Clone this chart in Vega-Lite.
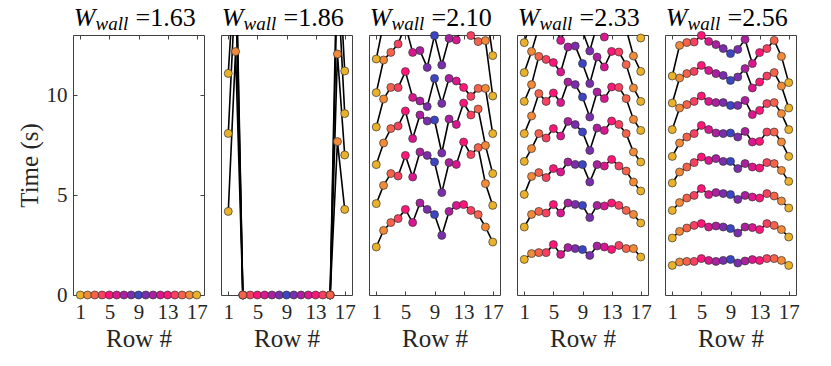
{
"$schema":"https://vega.github.io/schema/vega-lite/v6.json",
"background":"white",
"padding":{"left":16,"top":4,"right":5,"bottom":5},
"bounds":"flush",
"spacing":17,
"config":{
 "font":"'Liberation Serif', 'DejaVu Serif', serif",
 "view":{"stroke":"#404040","strokeWidth":1},
 "axis":{"grid":false,"domain":false,"ticks":true,"tickColor":"#404040","tickSize":-4,"tickWidth":1,"labelFont":"'Liberation Serif', 'DejaVu Serif', serif","labelFontSize":21,"labelColor":"#262626","labelPadding":10,"titleFont":"'Liberation Serif', 'DejaVu Serif', serif","titleFontSize":25,"titleFontWeight":"normal","titleColor":"#262626"},
 "text":{"font":"'Liberation Serif', 'DejaVu Serif', serif","color":"#000000"}
},
"hconcat":[
{"width":131,"height":260,
 "data":{"values":[
 {"row":1,"t":0,"k":1},{"row":2,"t":0,"k":1},{"row":3,"t":0,"k":1},{"row":4,"t":0,"k":1},{"row":5,"t":0,"k":1},{"row":6,"t":0,"k":1},{"row":7,"t":0,"k":1},{"row":8,"t":0,"k":1},{"row":9,"t":0,"k":1},{"row":10,"t":0,"k":1},{"row":11,"t":0,"k":1},{"row":12,"t":0,"k":1},{"row":13,"t":0,"k":1},{"row":14,"t":0,"k":1},{"row":15,"t":0,"k":1},{"row":16,"t":0,"k":1},{"row":17,"t":0,"k":1}
 ]},
 "resolve":{"axis":{"x":"independent","y":"independent"}},
 "layer":[
  {"mark":{"type":"line","color":"#000000","strokeWidth":1.6,"clip":true},
   "encoding":{"x":{"field":"row","type":"quantitative","scale":{"domain":[0,18],"nice":false},"axis":{"orient":"bottom","values":[1,5,9,13,17],"title":"Row #"}},
    "y":{"field":"t","type":"quantitative","scale":{"domain":[0,13],"nice":false},"axis":{"orient":"left","values":[0,5,10],"title":"Time (s)"}},
    "detail":{"field":"k","type":"nominal"},"order":{"field":"row","type":"quantitative"}}},
  {"transform":[{"filter":"datum.t <= 13.1"}],
   "mark":{"type":"circle","size":64,"opacity":1,"stroke":"#333333","strokeWidth":0.7},
   "encoding":{"x":{"field":"row","type":"quantitative","axis":{"orient":"top","values":[1,5,9,13,17],"labels":false,"title":null}},
    "y":{"field":"t","type":"quantitative","axis":{"orient":"right","values":[0,5,10],"labels":false,"title":null}},
    "color":{"field":"row","type":"ordinal","scale":{"domain":[1,2,3,4,5,6,7,8,9,10,11,12,13,14,15,16,17],"range":["#E9B22A","#F28A38","#F6624A","#FA4060","#FF1678","#D9178E","#AA209E","#7A2EAE","#3D45C2","#7A2EAE","#AA209E","#D9178E","#FF1678","#FA4060","#F6624A","#F28A38","#E9B22A"]},"legend":null}}},
  {"data":{"values":[{"s":"W"}]},"mark":{"type":"text","fontStyle":"italic","fontSize":26,"align":"right","baseline":"alphabetic","dx":-43,"dy":-9},
   "encoding":{"x":{"datum":9,"type":"quantitative","axis":null},"y":{"datum":13,"type":"quantitative","axis":null},"text":{"field":"s"}}},
  {"data":{"values":[{"s":"wall"}]},"mark":{"type":"text","fontStyle":"italic","fontSize":19,"align":"left","baseline":"alphabetic","dx":-43,"dy":-5},
   "encoding":{"x":{"datum":9,"type":"quantitative","axis":null},"y":{"datum":13,"type":"quantitative","axis":null},"text":{"field":"s"}}},
  {"data":{"values":[{"s":"=1.63"}]},"mark":{"type":"text","fontSize":26,"align":"left","baseline":"alphabetic","dx":-3,"dy":-9},
   "encoding":{"x":{"datum":9,"type":"quantitative","axis":null},"y":{"datum":13,"type":"quantitative","axis":null},"text":{"field":"s"}}}
 ]},
{"width":131,"height":260,
 "data":{"values":[
 {"row":1,"t":4.18,"k":1},{"row":2,"t":12.17,"k":1},{"row":3,"t":0,"k":1},{"row":4,"t":0,"k":1},{"row":5,"t":0,"k":1},{"row":6,"t":0,"k":1},{"row":7,"t":0,"k":1},{"row":8,"t":0,"k":1},{"row":9,"t":0,"k":1},{"row":10,"t":0,"k":1},{"row":11,"t":0,"k":1},{"row":12,"t":0,"k":1},{"row":13,"t":0,"k":1},{"row":14,"t":0,"k":1},{"row":15,"t":0,"k":1},{"row":16,"t":7.67,"k":1},{"row":17,"t":4.28,"k":1},
 {"row":1,"t":8.08,"k":2},{"row":2,"t":15.5,"k":2},{"row":3,"t":0,"k":2},{"row":15,"t":0,"k":2},{"row":16,"t":12.05,"k":2},{"row":17,"t":7.0,"k":2},
 {"row":1,"t":11.08,"k":3},{"row":2,"t":17,"k":3},{"row":3,"t":0,"k":3},{"row":15,"t":0,"k":3},{"row":16,"t":16,"k":3},{"row":17,"t":9.07,"k":3},
 {"row":1,"t":14.5,"k":4},{"row":2,"t":18,"k":4},{"row":3,"t":0,"k":4},{"row":15,"t":0,"k":4},{"row":16,"t":18,"k":4},{"row":17,"t":11.2,"k":4}
 ]},
 "resolve":{"axis":{"x":"independent","y":"independent"}},
 "layer":[
  {"mark":{"type":"line","color":"#000000","strokeWidth":1.6,"clip":true},
   "encoding":{"x":{"field":"row","type":"quantitative","scale":{"domain":[0,18],"nice":false},"axis":{"orient":"bottom","values":[1,5,9,13,17],"title":"Row #"}},
    "y":{"field":"t","type":"quantitative","scale":{"domain":[0,13],"nice":false},"axis":null},
    "detail":{"field":"k","type":"nominal"},"order":{"field":"row","type":"quantitative"}}},
  {"transform":[{"filter":"datum.t <= 13.1"}],
   "mark":{"type":"circle","size":64,"opacity":1,"stroke":"#333333","strokeWidth":0.7},
   "encoding":{"x":{"field":"row","type":"quantitative","axis":{"orient":"top","values":[1,5,9,13,17],"labels":false,"title":null}},
    "y":{"field":"t","type":"quantitative","axis":null},
    "color":{"field":"row","type":"ordinal","scale":{"domain":[1,2,3,4,5,6,7,8,9,10,11,12,13,14,15,16,17],"range":["#E9B22A","#F28A38","#F6624A","#FA4060","#FF1678","#D9178E","#AA209E","#7A2EAE","#3D45C2","#7A2EAE","#AA209E","#D9178E","#FF1678","#FA4060","#F6624A","#F28A38","#E9B22A"]},"legend":null}}},
  {"data":{"values":[{"s":"W"}]},"mark":{"type":"text","fontStyle":"italic","fontSize":26,"align":"right","baseline":"alphabetic","dx":-43,"dy":-9},
   "encoding":{"x":{"datum":9,"type":"quantitative","axis":null},"y":{"datum":13,"type":"quantitative","axis":null},"text":{"field":"s"}}},
  {"data":{"values":[{"s":"wall"}]},"mark":{"type":"text","fontStyle":"italic","fontSize":19,"align":"left","baseline":"alphabetic","dx":-43,"dy":-5},
   "encoding":{"x":{"datum":9,"type":"quantitative","axis":null},"y":{"datum":13,"type":"quantitative","axis":null},"text":{"field":"s"}}},
  {"data":{"values":[{"s":"=1.86"}]},"mark":{"type":"text","fontSize":26,"align":"left","baseline":"alphabetic","dx":-3,"dy":-9},
   "encoding":{"x":{"datum":9,"type":"quantitative","axis":null},"y":{"datum":13,"type":"quantitative","axis":null},"text":{"field":"s"}}}
 ]},
{"width":131,"height":260,
 "data":{"values":[
 {"row":1,"t":2.4,"k":1},{"row":2,"t":3.23,"k":1},{"row":3,"t":3.62,"k":1},{"row":4,"t":3.82,"k":1},{"row":5,"t":4.28,"k":1},{"row":6,"t":3.62,"k":1},{"row":7,"t":4.6,"k":1},{"row":8,"t":4.28,"k":1},{"row":9,"t":4.02,"k":1},{"row":10,"t":2.98,"k":1},{"row":11,"t":4.18,"k":1},{"row":12,"t":4.48,"k":1},{"row":13,"t":4.52,"k":1},{"row":14,"t":4.23,"k":1},{"row":15,"t":4.02,"k":1},{"row":16,"t":3.4,"k":1},{"row":17,"t":2.65,"k":1},
 {"row":1,"t":4.57,"k":2},{"row":2,"t":5.48,"k":2},{"row":3,"t":6.07,"k":2},{"row":4,"t":5.95,"k":2},{"row":5,"t":6.98,"k":2},{"row":6,"t":5.9,"k":2},{"row":7,"t":7.15,"k":2},{"row":8,"t":6.98,"k":2},{"row":9,"t":6.65,"k":2},{"row":10,"t":5.12,"k":2},{"row":11,"t":6.62,"k":2},{"row":12,"t":6.53,"k":2},{"row":13,"t":7.65,"k":2},{"row":14,"t":7.02,"k":2},{"row":15,"t":7.37,"k":2},{"row":16,"t":5.57,"k":2},{"row":17,"t":4.48,"k":2},
 {"row":1,"t":6.52,"k":3},{"row":2,"t":7.6,"k":3},{"row":3,"t":8.32,"k":3},{"row":4,"t":8.45,"k":3},{"row":5,"t":9.2,"k":3},{"row":6,"t":7.82,"k":3},{"row":7,"t":9.0,"k":3},{"row":8,"t":8.7,"k":3},{"row":9,"t":8.75,"k":3},{"row":10,"t":7.1,"k":3},{"row":11,"t":8.8,"k":3},{"row":12,"t":8.53,"k":3},{"row":13,"t":9.6,"k":3},{"row":14,"t":9.0,"k":3},{"row":15,"t":9.3,"k":3},{"row":16,"t":7.48,"k":3},{"row":17,"t":6.07,"k":3},
 {"row":1,"t":8.4,"k":4},{"row":2,"t":9.8,"k":4},{"row":3,"t":10.38,"k":4},{"row":4,"t":10.37,"k":4},{"row":5,"t":11.17,"k":4},{"row":6,"t":9.88,"k":4},{"row":7,"t":9.7,"k":4},{"row":8,"t":9.42,"k":4},{"row":9,"t":10.83,"k":4},{"row":10,"t":9.58,"k":4},{"row":11,"t":10.83,"k":4},{"row":12,"t":10.7,"k":4},{"row":13,"t":10.38,"k":4},{"row":14,"t":9.93,"k":4},{"row":15,"t":10.33,"k":4},{"row":16,"t":10.33,"k":4},{"row":17,"t":8.07,"k":4},
 {"row":1,"t":10.12,"k":5},{"row":2,"t":11.75,"k":5},{"row":3,"t":12.13,"k":5},{"row":4,"t":12.55,"k":5},{"row":5,"t":13.5,"k":5},{"row":6,"t":12.13,"k":5},{"row":7,"t":12.22,"k":5},{"row":8,"t":11.38,"k":5},{"row":9,"t":12.97,"k":5},{"row":10,"t":11.5,"k":5},{"row":11,"t":12.83,"k":5},{"row":12,"t":12.75,"k":5},{"row":13,"t":13.5,"k":5},{"row":14,"t":12.97,"k":5},{"row":15,"t":12.67,"k":5},{"row":16,"t":12.72,"k":5},{"row":17,"t":9.95,"k":5},
 {"row":1,"t":11.8,"k":6},{"row":2,"t":13.6,"k":6},{"row":3,"t":14,"k":6},{"row":9,"t":15,"k":6},{"row":15,"t":14.5,"k":6},{"row":16,"t":14.5,"k":6},{"row":17,"t":11.97,"k":6}
 ]},
 "resolve":{"axis":{"x":"independent","y":"independent"}},
 "layer":[
  {"mark":{"type":"line","color":"#000000","strokeWidth":1.6,"clip":true},
   "encoding":{"x":{"field":"row","type":"quantitative","scale":{"domain":[0,18],"nice":false},"axis":{"orient":"bottom","values":[1,5,9,13,17],"title":"Row #"}},
    "y":{"field":"t","type":"quantitative","scale":{"domain":[0,13],"nice":false},"axis":null},
    "detail":{"field":"k","type":"nominal"},"order":{"field":"row","type":"quantitative"}}},
  {"transform":[{"filter":"datum.t <= 13.1"}],
   "mark":{"type":"circle","size":64,"opacity":1,"stroke":"#333333","strokeWidth":0.7},
   "encoding":{"x":{"field":"row","type":"quantitative","axis":{"orient":"top","values":[1,5,9,13,17],"labels":false,"title":null}},
    "y":{"field":"t","type":"quantitative","axis":null},
    "color":{"field":"row","type":"ordinal","scale":{"domain":[1,2,3,4,5,6,7,8,9,10,11,12,13,14,15,16,17],"range":["#E9B22A","#F28A38","#F6624A","#FA4060","#FF1678","#D9178E","#AA209E","#7A2EAE","#3D45C2","#7A2EAE","#AA209E","#D9178E","#FF1678","#FA4060","#F6624A","#F28A38","#E9B22A"]},"legend":null}}},
  {"data":{"values":[{"s":"W"}]},"mark":{"type":"text","fontStyle":"italic","fontSize":26,"align":"right","baseline":"alphabetic","dx":-43,"dy":-9},
   "encoding":{"x":{"datum":9,"type":"quantitative","axis":null},"y":{"datum":13,"type":"quantitative","axis":null},"text":{"field":"s"}}},
  {"data":{"values":[{"s":"wall"}]},"mark":{"type":"text","fontStyle":"italic","fontSize":19,"align":"left","baseline":"alphabetic","dx":-43,"dy":-5},
   "encoding":{"x":{"datum":9,"type":"quantitative","axis":null},"y":{"datum":13,"type":"quantitative","axis":null},"text":{"field":"s"}}},
  {"data":{"values":[{"s":"=2.10"}]},"mark":{"type":"text","fontSize":26,"align":"left","baseline":"alphabetic","dx":-3,"dy":-9},
   "encoding":{"x":{"datum":9,"type":"quantitative","axis":null},"y":{"datum":13,"type":"quantitative","axis":null},"text":{"field":"s"}}}
 ]},
{"width":131,"height":260,
 "data":{"values":[
 {"row":1,"t":1.78,"k":1},{"row":2,"t":2.07,"k":1},{"row":3,"t":2.12,"k":1},{"row":4,"t":2.12,"k":1},{"row":5,"t":2.52,"k":1},{"row":6,"t":2.03,"k":1},{"row":7,"t":2.37,"k":1},{"row":8,"t":2.32,"k":1},{"row":9,"t":2.27,"k":1},{"row":10,"t":1.98,"k":1},{"row":11,"t":2.45,"k":1},{"row":12,"t":2.4,"k":1},{"row":13,"t":2.28,"k":1},{"row":14,"t":2.48,"k":1},{"row":15,"t":2.32,"k":1},{"row":16,"t":2.32,"k":1},{"row":17,"t":1.9,"k":1},
 {"row":1,"t":3.4,"k":2},{"row":2,"t":4.03,"k":2},{"row":3,"t":4.18,"k":2},{"row":4,"t":4.1,"k":2},{"row":5,"t":4.52,"k":2},{"row":6,"t":4.1,"k":2},{"row":7,"t":4.6,"k":2},{"row":8,"t":4.53,"k":2},{"row":9,"t":4.48,"k":2},{"row":10,"t":3.87,"k":2},{"row":11,"t":4.48,"k":2},{"row":12,"t":4.45,"k":2},{"row":13,"t":4.6,"k":2},{"row":14,"t":4.48,"k":2},{"row":15,"t":4.23,"k":2},{"row":16,"t":4.03,"k":2},{"row":17,"t":3.6,"k":2},
 {"row":1,"t":5.03,"k":3},{"row":2,"t":5.93,"k":3},{"row":3,"t":6.12,"k":3},{"row":4,"t":5.87,"k":3},{"row":5,"t":6.32,"k":3},{"row":6,"t":6.15,"k":3},{"row":7,"t":6.65,"k":3},{"row":8,"t":6.53,"k":3},{"row":9,"t":6.52,"k":3},{"row":10,"t":5.65,"k":3},{"row":11,"t":6.52,"k":3},{"row":12,"t":6.45,"k":3},{"row":13,"t":6.78,"k":3},{"row":14,"t":6.45,"k":3},{"row":15,"t":6.2,"k":3},{"row":16,"t":5.65,"k":3},{"row":17,"t":5.2,"k":3},
 {"row":1,"t":6.68,"k":4},{"row":2,"t":7.32,"k":4},{"row":3,"t":8.07,"k":4},{"row":4,"t":7.85,"k":4},{"row":5,"t":8.32,"k":4},{"row":6,"t":7.95,"k":4},{"row":7,"t":8.68,"k":4},{"row":8,"t":8.52,"k":4},{"row":9,"t":8.15,"k":4},{"row":10,"t":7.23,"k":4},{"row":11,"t":8.35,"k":4},{"row":12,"t":8.23,"k":4},{"row":13,"t":8.7,"k":4},{"row":14,"t":8.53,"k":4},{"row":15,"t":8.07,"k":4},{"row":16,"t":7.15,"k":4},{"row":17,"t":6.65,"k":4},
 {"row":1,"t":8.07,"k":5},{"row":2,"t":8.95,"k":5},{"row":3,"t":10.07,"k":5},{"row":4,"t":9.68,"k":5},{"row":5,"t":10.1,"k":5},{"row":6,"t":9.62,"k":5},{"row":7,"t":10.65,"k":5},{"row":8,"t":10.52,"k":5},{"row":9,"t":9.9,"k":5},{"row":10,"t":8.9,"k":5},{"row":11,"t":10.15,"k":5},{"row":12,"t":9.82,"k":5},{"row":13,"t":10.4,"k":5},{"row":14,"t":10.38,"k":5},{"row":15,"t":9.82,"k":5},{"row":16,"t":8.78,"k":5},{"row":17,"t":8.23,"k":5},
 {"row":1,"t":9.68,"k":6},{"row":2,"t":10.52,"k":6},{"row":3,"t":11.93,"k":6},{"row":4,"t":11.78,"k":6},{"row":5,"t":11.62,"k":6},{"row":6,"t":11.15,"k":6},{"row":7,"t":12.4,"k":6},{"row":8,"t":12.45,"k":6},{"row":9,"t":11.57,"k":6},{"row":10,"t":10.57,"k":6},{"row":11,"t":11.9,"k":6},{"row":12,"t":11.4,"k":6},{"row":13,"t":12.18,"k":6},{"row":14,"t":12.15,"k":6},{"row":15,"t":11.52,"k":6},{"row":16,"t":10.35,"k":6},{"row":17,"t":9.68,"k":6},
 {"row":1,"t":11.12,"k":7},{"row":2,"t":12.18,"k":7},{"row":3,"t":13.4,"k":7},{"row":5,"t":13.6,"k":7},{"row":6,"t":12.73,"k":7},{"row":7,"t":13.6,"k":7},{"row":9,"t":13.2,"k":7},{"row":10,"t":12.2,"k":7},{"row":11,"t":13.5,"k":7},{"row":12,"t":12.9,"k":7},{"row":13,"t":13.6,"k":7},{"row":15,"t":13.3,"k":7},{"row":16,"t":11.95,"k":7},{"row":17,"t":11.18,"k":7},
 {"row":1,"t":12.62,"k":8},{"row":2,"t":13.8,"k":8},{"row":16,"t":13.5,"k":8},{"row":17,"t":12.85,"k":8}
 ]},
 "resolve":{"axis":{"x":"independent","y":"independent"}},
 "layer":[
  {"mark":{"type":"line","color":"#000000","strokeWidth":1.6,"clip":true},
   "encoding":{"x":{"field":"row","type":"quantitative","scale":{"domain":[0,18],"nice":false},"axis":{"orient":"bottom","values":[1,5,9,13,17],"title":"Row #"}},
    "y":{"field":"t","type":"quantitative","scale":{"domain":[0,13],"nice":false},"axis":null},
    "detail":{"field":"k","type":"nominal"},"order":{"field":"row","type":"quantitative"}}},
  {"transform":[{"filter":"datum.t <= 13.1"}],
   "mark":{"type":"circle","size":64,"opacity":1,"stroke":"#333333","strokeWidth":0.7},
   "encoding":{"x":{"field":"row","type":"quantitative","axis":{"orient":"top","values":[1,5,9,13,17],"labels":false,"title":null}},
    "y":{"field":"t","type":"quantitative","axis":null},
    "color":{"field":"row","type":"ordinal","scale":{"domain":[1,2,3,4,5,6,7,8,9,10,11,12,13,14,15,16,17],"range":["#E9B22A","#F28A38","#F6624A","#FA4060","#FF1678","#D9178E","#AA209E","#7A2EAE","#3D45C2","#7A2EAE","#AA209E","#D9178E","#FF1678","#FA4060","#F6624A","#F28A38","#E9B22A"]},"legend":null}}},
  {"data":{"values":[{"s":"W"}]},"mark":{"type":"text","fontStyle":"italic","fontSize":26,"align":"right","baseline":"alphabetic","dx":-43,"dy":-9},
   "encoding":{"x":{"datum":9,"type":"quantitative","axis":null},"y":{"datum":13,"type":"quantitative","axis":null},"text":{"field":"s"}}},
  {"data":{"values":[{"s":"wall"}]},"mark":{"type":"text","fontStyle":"italic","fontSize":19,"align":"left","baseline":"alphabetic","dx":-43,"dy":-5},
   "encoding":{"x":{"datum":9,"type":"quantitative","axis":null},"y":{"datum":13,"type":"quantitative","axis":null},"text":{"field":"s"}}},
  {"data":{"values":[{"s":"=2.33"}]},"mark":{"type":"text","fontSize":26,"align":"left","baseline":"alphabetic","dx":-3,"dy":-9},
   "encoding":{"x":{"datum":9,"type":"quantitative","axis":null},"y":{"datum":13,"type":"quantitative","axis":null},"text":{"field":"s"}}}
 ]},
{"width":131,"height":260,
 "data":{"values":[
 {"row":1,"t":1.48,"k":1},{"row":2,"t":1.65,"k":1},{"row":3,"t":1.68,"k":1},{"row":4,"t":1.68,"k":1},{"row":5,"t":1.82,"k":1},{"row":6,"t":1.73,"k":1},{"row":7,"t":1.68,"k":1},{"row":8,"t":1.73,"k":1},{"row":9,"t":1.78,"k":1},{"row":10,"t":1.6,"k":1},{"row":11,"t":1.7,"k":1},{"row":12,"t":1.77,"k":1},{"row":13,"t":1.73,"k":1},{"row":14,"t":1.82,"k":1},{"row":15,"t":1.82,"k":1},{"row":16,"t":1.73,"k":1},{"row":17,"t":1.48,"k":1},
 {"row":1,"t":2.85,"k":2},{"row":2,"t":3.18,"k":2},{"row":3,"t":3.35,"k":2},{"row":4,"t":3.48,"k":2},{"row":5,"t":3.57,"k":2},{"row":6,"t":3.4,"k":2},{"row":7,"t":3.45,"k":2},{"row":8,"t":3.4,"k":2},{"row":9,"t":3.32,"k":2},{"row":10,"t":3.1,"k":2},{"row":11,"t":3.4,"k":2},{"row":12,"t":3.37,"k":2},{"row":13,"t":3.27,"k":2},{"row":14,"t":3.57,"k":2},{"row":15,"t":3.48,"k":2},{"row":16,"t":3.27,"k":2},{"row":17,"t":2.9,"k":2},
 {"row":1,"t":4.23,"k":3},{"row":2,"t":4.62,"k":3},{"row":3,"t":4.85,"k":3},{"row":4,"t":4.98,"k":3},{"row":5,"t":5.32,"k":3},{"row":6,"t":5.02,"k":3},{"row":7,"t":5.12,"k":3},{"row":8,"t":5.07,"k":3},{"row":9,"t":5.02,"k":3},{"row":10,"t":4.78,"k":3},{"row":11,"t":4.98,"k":3},{"row":12,"t":4.9,"k":3},{"row":13,"t":4.85,"k":3},{"row":14,"t":5.07,"k":3},{"row":15,"t":4.95,"k":3},{"row":16,"t":4.7,"k":3},{"row":17,"t":4.35,"k":3},
 {"row":1,"t":5.6,"k":4},{"row":2,"t":6.15,"k":4},{"row":3,"t":6.4,"k":4},{"row":4,"t":6.62,"k":4},{"row":5,"t":6.9,"k":4},{"row":6,"t":6.73,"k":4},{"row":7,"t":6.82,"k":4},{"row":8,"t":6.68,"k":4},{"row":9,"t":6.68,"k":4},{"row":10,"t":6.32,"k":4},{"row":11,"t":6.57,"k":4},{"row":12,"t":6.4,"k":4},{"row":13,"t":6.35,"k":4},{"row":14,"t":6.62,"k":4},{"row":15,"t":6.57,"k":4},{"row":16,"t":6.23,"k":4},{"row":17,"t":5.68,"k":4},
 {"row":1,"t":6.93,"k":5},{"row":2,"t":7.6,"k":5},{"row":3,"t":7.9,"k":5},{"row":4,"t":8.07,"k":5},{"row":5,"t":8.48,"k":5},{"row":6,"t":8.27,"k":5},{"row":7,"t":8.1,"k":5},{"row":8,"t":8.07,"k":5},{"row":9,"t":8.1,"k":5},{"row":10,"t":7.9,"k":5},{"row":11,"t":8.18,"k":5},{"row":12,"t":7.65,"k":5},{"row":13,"t":7.68,"k":5},{"row":14,"t":8.15,"k":5},{"row":15,"t":8.15,"k":5},{"row":16,"t":7.65,"k":5},{"row":17,"t":6.93,"k":5},
 {"row":1,"t":8.27,"k":6},{"row":2,"t":9.35,"k":6},{"row":3,"t":9.52,"k":6},{"row":4,"t":9.68,"k":6},{"row":5,"t":9.95,"k":6},{"row":6,"t":9.68,"k":6},{"row":7,"t":9.62,"k":6},{"row":8,"t":9.62,"k":6},{"row":9,"t":9.48,"k":6},{"row":10,"t":9.48,"k":6},{"row":11,"t":9.73,"k":6},{"row":12,"t":9.02,"k":6},{"row":13,"t":9.23,"k":6},{"row":14,"t":9.57,"k":6},{"row":15,"t":9.62,"k":6},{"row":16,"t":9.07,"k":6},{"row":17,"t":8.27,"k":6},
 {"row":1,"t":9.6,"k":7},{"row":2,"t":10.85,"k":7},{"row":3,"t":11.07,"k":7},{"row":4,"t":11.18,"k":7},{"row":5,"t":11.48,"k":7},{"row":6,"t":11.23,"k":7},{"row":7,"t":11.07,"k":7},{"row":8,"t":10.98,"k":7},{"row":9,"t":10.73,"k":7},{"row":10,"t":10.9,"k":7},{"row":11,"t":11.32,"k":7},{"row":12,"t":10.35,"k":7},{"row":13,"t":10.65,"k":7},{"row":14,"t":10.95,"k":7},{"row":15,"t":11.12,"k":7},{"row":16,"t":10.45,"k":7},{"row":17,"t":9.35,"k":7},
 {"row":1,"t":10.95,"k":8},{"row":2,"t":12.48,"k":8},{"row":3,"t":12.62,"k":8},{"row":4,"t":12.65,"k":8},{"row":5,"t":12.98,"k":8},{"row":6,"t":12.68,"k":8},{"row":7,"t":12.52,"k":8},{"row":8,"t":12.32,"k":8},{"row":9,"t":12.07,"k":8},{"row":10,"t":12.28,"k":8},{"row":11,"t":12.78,"k":8},{"row":12,"t":11.57,"k":8},{"row":13,"t":12.12,"k":8},{"row":14,"t":12.32,"k":8},{"row":15,"t":12.73,"k":8},{"row":16,"t":11.93,"k":8},{"row":17,"t":10.62,"k":8}
 ]},
 "resolve":{"axis":{"x":"independent","y":"independent"}},
 "layer":[
  {"mark":{"type":"line","color":"#000000","strokeWidth":1.6,"clip":true},
   "encoding":{"x":{"field":"row","type":"quantitative","scale":{"domain":[0,18],"nice":false},"axis":{"orient":"bottom","values":[1,5,9,13,17],"title":"Row #"}},
    "y":{"field":"t","type":"quantitative","scale":{"domain":[0,13],"nice":false},"axis":null},
    "detail":{"field":"k","type":"nominal"},"order":{"field":"row","type":"quantitative"}}},
  {"transform":[{"filter":"datum.t <= 13.1"}],
   "mark":{"type":"circle","size":64,"opacity":1,"stroke":"#333333","strokeWidth":0.7},
   "encoding":{"x":{"field":"row","type":"quantitative","axis":{"orient":"top","values":[1,5,9,13,17],"labels":false,"title":null}},
    "y":{"field":"t","type":"quantitative","axis":null},
    "color":{"field":"row","type":"ordinal","scale":{"domain":[1,2,3,4,5,6,7,8,9,10,11,12,13,14,15,16,17],"range":["#E9B22A","#F28A38","#F6624A","#FA4060","#FF1678","#D9178E","#AA209E","#7A2EAE","#3D45C2","#7A2EAE","#AA209E","#D9178E","#FF1678","#FA4060","#F6624A","#F28A38","#E9B22A"]},"legend":null}}},
  {"data":{"values":[{"s":"W"}]},"mark":{"type":"text","fontStyle":"italic","fontSize":26,"align":"right","baseline":"alphabetic","dx":-43,"dy":-9},
   "encoding":{"x":{"datum":9,"type":"quantitative","axis":null},"y":{"datum":13,"type":"quantitative","axis":null},"text":{"field":"s"}}},
  {"data":{"values":[{"s":"wall"}]},"mark":{"type":"text","fontStyle":"italic","fontSize":19,"align":"left","baseline":"alphabetic","dx":-43,"dy":-5},
   "encoding":{"x":{"datum":9,"type":"quantitative","axis":null},"y":{"datum":13,"type":"quantitative","axis":null},"text":{"field":"s"}}},
  {"data":{"values":[{"s":"=2.56"}]},"mark":{"type":"text","fontSize":26,"align":"left","baseline":"alphabetic","dx":-3,"dy":-9},
   "encoding":{"x":{"datum":9,"type":"quantitative","axis":null},"y":{"datum":13,"type":"quantitative","axis":null},"text":{"field":"s"}}}
 ]}
]
}
